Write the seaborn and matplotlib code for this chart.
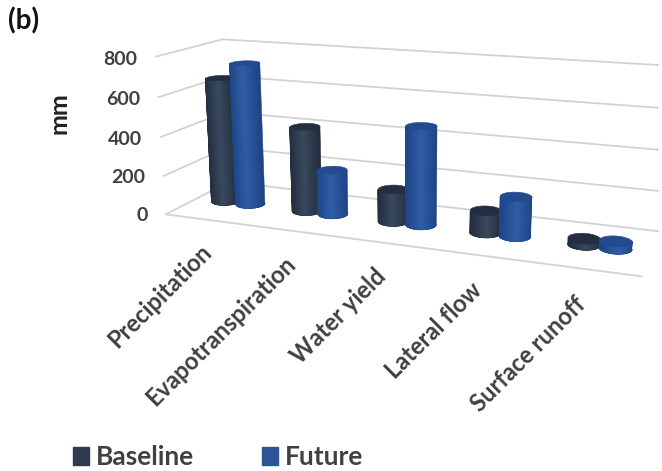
import numpy as np
import matplotlib
matplotlib.use('Agg')
from matplotlib import pyplot as plt
from matplotlib.patches import Patch
from mpl_toolkits.mplot3d import proj3d
from mpl_toolkits.mplot3d.art3d import Poly3DCollection
import seaborn as sns

# * data
categories = ['Precipitation', 'Evapotranspiration', 'Water yield', 'Lateral flow', 'Surface runoff']
baseline = [655, 440, 165, 110, 30]
future = [740, 230, 495, 195, 35]
z_ticks = [0, 200, 400, 600, 800]

# * camera settings, found by fitting the reference walls
elev, azim, focal = 14.1578, -69.1791, np.exp(-1.0202)
box = (3.4104, 0.8927, 1.1581)
series_offset = 0.1535
bar_rx = 0.157

sns.set_theme(style='white')
plt.rcParams['font.family'] = ['Lato', 'DejaVu Sans']

fig = plt.figure(figsize=(6.62, 4.71), dpi=100)
ax = fig.add_axes([0.2123, 0.1303, 0.7828, 1.1003], projection='3d', computed_zorder=False)
ax.set_xlim(0, 5)
ax.set_ylim(0, 1)
ax.set_zlim(0, 800)
ax.set_axis_off()
ax.view_init(elev=elev, azim=azim)
ax.set_proj_type('persp', focal_length=focal)
ax.set_box_aspect(box)
M = ax.get_proj()


def to_2d(x, y, z):
    X, Y, _ = proj3d.proj_transform(np.array([x], float), np.array([y], float), np.array([z], float), M)
    return float(X[0]), float(Y[0])


# * gridlines
grid_color = '#d2d2d2'
for z in z_ticks:
    ax.plot([0, 0], [0, 1], [z, z], color=grid_color, lw=1.3, zorder=1)
    ax.plot([0, 5], [1, 1], [z, z], color=grid_color, lw=1.3, zorder=1)
    X, Y = to_2d(-.23, 0, z)
    ax.text2D(X, Y - .0014, str(z), transform=ax.transData, ha='right', va='center',
              fontsize=14, fontweight='bold', color='#404040')
ax.plot([0, 5], [0, 0], [0, 0], color=grid_color, lw=1.3, zorder=1)

# * cylinders
colors = {'Baseline': ('#222d3c', '#3a4a60', '#232f40'), 'Future': ('#1e4485', '#2f5fa8', '#234b90')}
ry = bar_rx * (box[0] / 5) / box[1]
n = 72
# start the circle on the hidden side so the facing half stays in one piece
az = np.deg2rad(azim)
theta = az + np.linspace(-np.pi, np.pi, n + 1)


def cylinder(xc, height, cols, order):
    pal = sns.blend_palette([cols[0], cols[1], cols[0]], n_colors=n)
    X = xc + bar_rx * np.cos(theta)
    Y = .5 + ry * np.sin(theta)
    mids = (theta[:-1] + theta[1:]) / 2
    # backing piece gives one clean outline, strips only shade the inside
    front = np.cos(theta - az) >= 0
    outline = list(zip(X[front], Y[front], np.zeros(front.sum()))) + list(zip(X[front][::-1], Y[front][::-1], np.full(front.sum(), height)))
    quads, cs = [], []
    for j in range(n):
        if np.cos(mids[j] - az) > .2:
            t = (np.sin(mids[j] - az) + 1) / 2
            cs.append(pal[int(t * (n - 1))])
            quads.append([(X[j], Y[j], 0), (X[j + 1], Y[j + 1], 0), (X[j + 1], Y[j + 1], height), (X[j], Y[j], height)])
    ax.add_collection3d(Poly3DCollection([list(zip(X, Y, np.zeros(n + 1)))], facecolors=[cols[0]], edgecolors=[cols[0]], linewidths=.4, zorder=order - .6))
    ax.add_collection3d(Poly3DCollection([outline], facecolors=[cols[0]], edgecolors=[cols[0]], linewidths=.4, zorder=order - .3))
    ax.add_collection3d(Poly3DCollection(quads, facecolors=cs, edgecolors=cs, linewidths=.5, zorder=order))
    top = [list(zip(X, Y, np.full(n + 1, height)))]
    ax.add_collection3d(Poly3DCollection(top, facecolors=[cols[2]], edgecolors=[cols[2]], linewidths=.4, zorder=order + .5))


for i, cat in enumerate(categories):
    cylinder(i + .5 - series_offset, baseline[i], colors['Baseline'], 10 + 4 * i)
    cylinder(i + .5 + series_offset, future[i], colors['Future'], 12 + 4 * i)
    X, Y = to_2d(i + .4, 0, -115)
    ax.text2D(X, Y, cat, transform=ax.transData, rotation=45, rotation_mode='anchor', ha='right', va='top',
              fontsize=17, fontweight='bold', color='#404040')

fig.text(59 / 662, 1 - 113 / 471, 'mm', rotation=90, ha='center', va='center', fontsize=18, fontweight='bold', color='#222222')
fig.text(8 / 662, 1 - 21 / 471, '(b)', ha='left', va='center', fontsize=20, fontweight='bold', color='#111111')

handles = [Patch(color='#2f3b4f', label='Baseline'), Patch(color='#2c5597', label='Future')]
fig.legend(handles=handles, ncol=2, loc='center left', bbox_to_anchor=(73 / 662, 1 - 457 / 471), frameon=False,
           prop={'size': 19, 'weight': 'bold'}, labelcolor='#404040', handlelength=.6, handleheight=.7,
           handletextpad=.25, columnspacing=2.6, borderpad=0, borderaxespad=0)

fig.savefig('out.png', dpi=100)
